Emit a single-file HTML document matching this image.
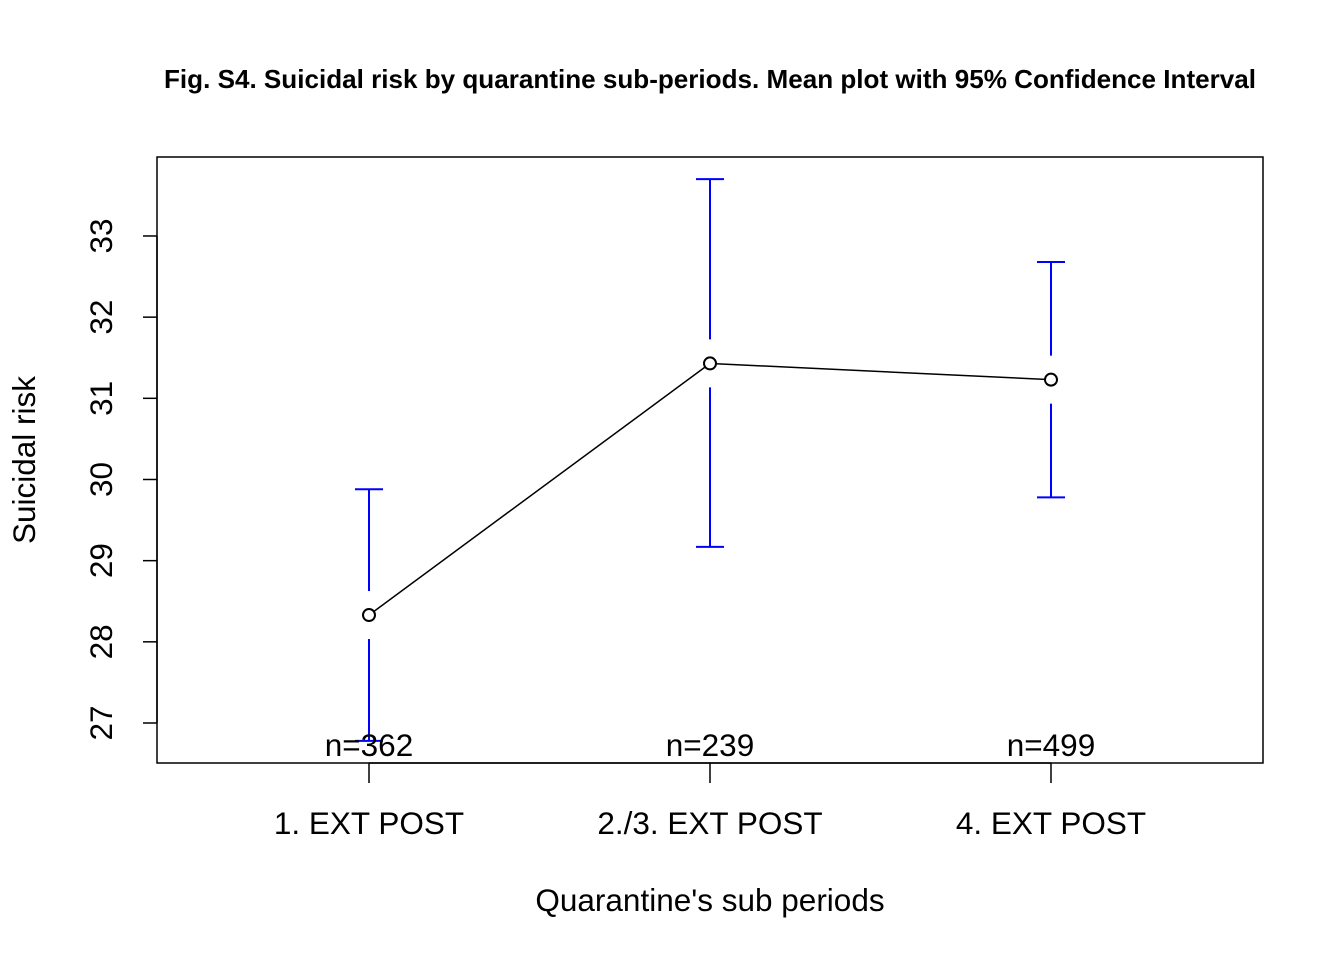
<!DOCTYPE html>
<html><head><meta charset="utf-8"><style>
body{margin:0;background:#fff}
svg{display:block;font-family:"Liberation Sans",Arial,sans-serif}
</style></head><body>
<svg id="chart" width="1344" height="960" viewBox="0 0 1344 960">
<rect width="1344" height="960" fill="#fff"/>
<text x="710" y="88" font-size="26" font-weight="bold" text-anchor="middle" textLength="1092" lengthAdjust="spacingAndGlyphs">Fig. S4. Suicidal risk by quarantine sub-periods. Mean plot with 95% Confidence Interval</text>
<rect x="157" y="157" width="1106" height="606" fill="none" stroke="#000" stroke-width="1.5"/>
<g id="yaxis"></g>
<g id="xaxis"></g>
<g id="marks"></g>
<text transform="translate(35,460) rotate(-90)" font-size="31.5" text-anchor="middle">Suicidal risk</text>
<text x="710" y="911" font-size="31.5" text-anchor="middle">Quarantine's sub periods</text>
</svg>
<script>
const categories=["1. EXT POST","2./3. EXT POST","4. EXT POST"];
const means=[28.33,31.43,31.23];
const lower=[26.78,29.17,29.78];
const upper=[29.88,33.70,32.68];
const counts=["n=362","n=239","n=499"];
const yTicks=[27,28,29,30,31,32,33];
const NS="http://www.w3.org/2000/svg";
const ys=v=>723-(v-27)*81.17;
const xs=i=>369+i*341;
function mk(tag,attrs,parent){const e=document.createElementNS(NS,tag);for(const k in attrs)e.setAttribute(k,attrs[k]);parent.appendChild(e);return e;}
const ya=document.getElementById('yaxis'),xa=document.getElementById('xaxis'),mg=document.getElementById('marks');
mk('line',{x1:157,x2:157,y1:ys(27),y2:ys(33),stroke:'#000','stroke-width':1.5},ya);
yTicks.forEach(t=>{
 const l=mk('line',{x1:143,x2:157,y1:ys(t),y2:ys(t),stroke:'#000','stroke-width':1.5},ya);
 
 
 const tx=mk('text',{transform:`translate(112,${ys(t)}) rotate(-90)`,'font-size':31.5,'text-anchor':'middle'},ya);
 tx.textContent=t;
 
 
});
mk('line',{x1:xs(0),x2:xs(categories.length-1),y1:763,y2:763,stroke:'#000','stroke-width':1.5},xa);
categories.forEach((c,i)=>{
 const l=mk('line',{x1:xs(i),x2:xs(i),y1:763,y2:783,stroke:'#000','stroke-width':1.5},xa);
 
 
 const tx=mk('text',{x:xs(i),y:834,'font-size':31.5,'text-anchor':'middle'},xa);
 tx.textContent=c;
 
 
});
for(let i=0;i<means.length-1;i++){
 const x1=xs(i),y1=ys(means[i]),x2=xs(i+1),y2=ys(means[i+1]);
 const d=Math.hypot(x2-x1,y2-y1),ux=(x2-x1)/d,uy=(y2-y1)/d,r=6;
 const l=mk('line',{x1:x1+ux*r,y1:y1+uy*r,x2:x2-ux*r,y2:y2-uy*r,stroke:'#000','stroke-width':1.5},mg);
 
 
}
means.forEach((m,i)=>{
 const x=xs(i),y=ys(m),g=24;
 const b=mk('g',{stroke:'#0000ff','stroke-width':2},mg);
 
 
 mk('line',{x1:x,x2:x,y1:ys(upper[i]),y2:Math.max(ys(upper[i]),y-g)},b);
 mk('line',{x1:x,x2:x,y1:Math.min(ys(lower[i]),y+g),y2:ys(lower[i])},b);
 mk('line',{x1:x-14,x2:x+14,y1:ys(upper[i]),y2:ys(upper[i])},b);
 mk('line',{x1:x-14,x2:x+14,y1:ys(lower[i]),y2:ys(lower[i])},b);
 const c=mk('circle',{cx:x,cy:y,r:6,fill:'none',stroke:'#000','stroke-width':2},mg);
 
 
 const t=mk('text',{x:x,y:756,'font-size':31.5,'text-anchor':'middle'},mg);
 t.textContent=counts[i];
 
 
});
</script>
</body></html>
